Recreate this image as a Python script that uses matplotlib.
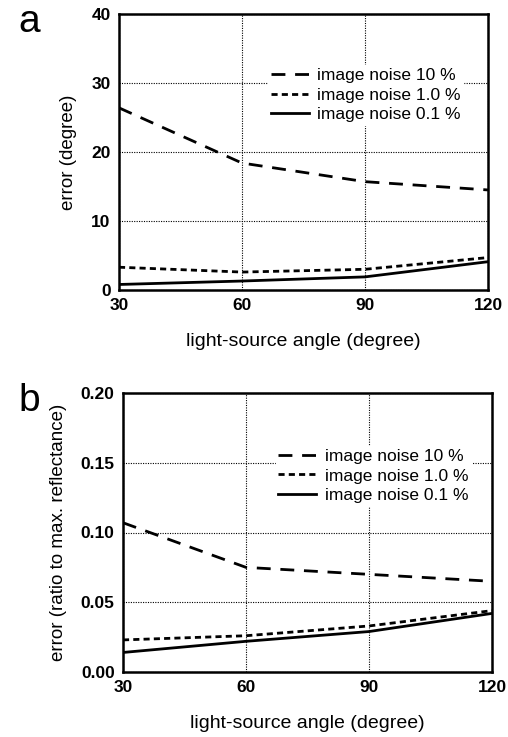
import numpy as np
import matplotlib
matplotlib.use("Agg")
import matplotlib.pyplot as plt

plt.rcParams.update({"font.family": ["Liberation Sans", "DejaVu Sans"]})

angles = [30, 60, 90, 120]
labels = ["image noise 10 %", "image noise 1.0 %", "image noise 0.1 %"]
err_deg_10 = [26.4, 18.4, 15.7, 14.5]
err_deg_1 = [3.3, 2.6, 3.0, 4.7]
err_deg_01 = [0.8, 1.3, 1.9, 4.1]
err_ref_10 = [0.107, 0.075, 0.070, 0.065]
err_ref_1 = [0.023, 0.026, 0.033, 0.044]
err_ref_01 = [0.014, 0.022, 0.029, 0.042]

styles = [(0, (5, 3.5)), (0, (2.2, 1.5)), "-"]

W, H = 508, 737
fig = plt.figure(figsize=(W/100, H/100), dpi=100)

def panel(rect, series, ylim, yticks, yticklabels, ylabel, letter, lpos):
    l, t, r, b = rect
    ax = fig.add_axes([l/W, 1-b/H, (r-l)/W, (b-t)/H])
    for vals, ls, lab in zip(series, styles, labels):
        ax.plot(angles, vals, color="black", lw=2, ls=ls, label=lab)
    ax.set_xlim(30, 120); ax.set_ylim(*ylim)
    ax.set_xticks(angles); ax.set_xticklabels([str(a) for a in angles])
    ax.set_yticks(yticks); ax.set_yticklabels(yticklabels)
    for lbl in ax.get_xticklabels() + ax.get_yticklabels():
        lbl.set_fontweight("bold"); lbl.set_fontsize(12.5)
    ax.tick_params(length=0, pad=6)
    ax.grid(True, color="black", ls=(0, (1, 1.2)), lw=0.8)
    for sp in ax.spines.values(): sp.set_linewidth(1.8)
    ax.set_xlabel("light-source angle (degree)", fontsize=14, labelpad=14)
    ax.set_ylabel(ylabel, fontsize=13.5, labelpad=10)
    leg = ax.legend(loc="upper left", bbox_to_anchor=lpos, frameon=True, fontsize=12.5,
                    handlelength=2.2, handletextpad=0.5, labelspacing=0.25,
                    borderpad=0.15, fancybox=False)
    leg.get_frame().set_edgecolor("white"); leg.get_frame().set_alpha(1)
    fig.text(18/W, 1-(t+8)/H, letter, fontsize=28, va="center", ha="left")
    return ax

panel((119, 14, 488, 290), [err_deg_10, err_deg_1, err_deg_01], (0, 40),
      [0, 10, 20, 30, 40], ["0", "10", "20", "30", "40"], "error (degree)", "a", (0.38, 0.845))
panel((123, 393, 492, 672), [err_ref_10, err_ref_1, err_ref_01], (0, 0.2),
      [0, 0.05, 0.10, 0.15, 0.20], ["0.00", "0.05", "0.10", "0.15", "0.20"],
      "error (ratio to max. reflectance)", "b", (0.39, 0.84))

fig.savefig("out.png", dpi=100)
